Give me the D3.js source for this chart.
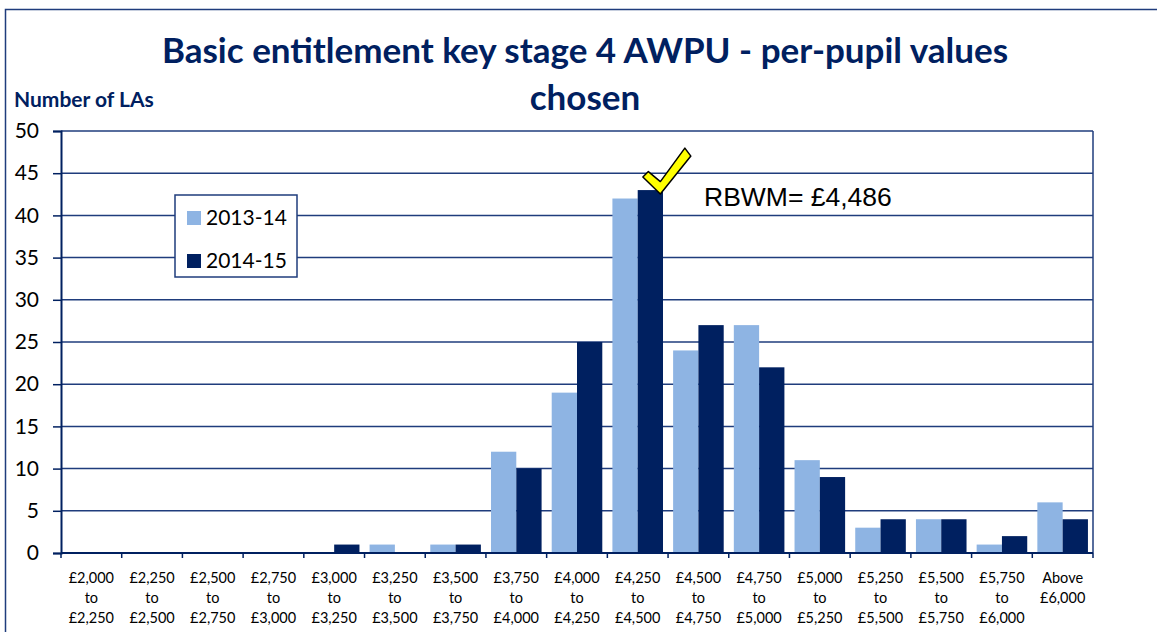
<!DOCTYPE html>
<html>
<head>
<meta charset="utf-8">
<script src="https://cdn.jsdelivr.net/npm/d3@7"></script>
<style>
  body { margin: 0; background: #fff; }
  svg { display: block; }
</style>
</head>
<body>
<div id="chart"></div>
<script>
const WIDTH = 1157;
const HEIGHT = 632;

// data
const categories = [
  ["£2,000", "to", "£2,250"], ["£2,250", "to", "£2,500"], ["£2,500", "to", "£2,750"],
  ["£2,750", "to", "£3,000"], ["£3,000", "to", "£3,250"], ["£3,250", "to", "£3,500"],
  ["£3,500", "to", "£3,750"], ["£3,750", "to", "£4,000"], ["£4,000", "to", "£4,250"],
  ["£4,250", "to", "£4,500"], ["£4,500", "to", "£4,750"], ["£4,750", "to", "£5,000"],
  ["£5,000", "to", "£5,250"], ["£5,250", "to", "£5,500"], ["£5,500", "to", "£5,750"],
  ["£5,750", "to", "£6,000"], ["Above", "£6,000"]
];
const seriesNames = ["2013-14", "2014-15"];
const values2013 = [0, 0, 0, 0, 0, 1, 1, 12, 19, 42, 24, 27, 11, 3, 4, 1, 6];
const values2014 = [0, 0, 0, 0, 1, 0, 1, 10, 25, 43, 27, 22, 9, 4, 4, 2, 4];
const yTicks = [0, 5, 10, 15, 20, 25, 30, 35, 40, 45, 50];
const colors = ["#8EB4E3", "#002060"];
const marked = { category: 9, value: 43, label: "RBWM= £4,486" };

const navy = "#002060";
const gridColor = "#1F3C7C";
const font = "Lato, 'Open Sans', sans-serif";

const margin = { left: 61, right: 64, top: 131, bottom: 79 };

const svg = d3.select("#chart")
  .append("svg")
  .attr("width", WIDTH)
  .attr("height", HEIGHT);

// outer chart border
svg.append("rect")
  .attr("x", 5.5).attr("y", 9.5)
  .attr("width", WIDTH + 10).attr("height", HEIGHT + 10)
  .attr("fill", "none")
  .attr("stroke", gridColor)
  .attr("stroke-width", 1.5);

const keys = d3.range(categories.length);

const x = d3.scaleBand()
  .domain(keys)
  .range([margin.left, WIDTH - margin.right])
  .paddingInner(0)
  .paddingOuter(0);

const xSub = d3.scaleBand()
  .domain([0, 1])
  .range([0, x.bandwidth()])
  .paddingOuter(0.2)
  .paddingInner(0);

const y = d3.scaleLinear()
  .domain([0, 50])
  .range([HEIGHT - margin.bottom, margin.top]);

// gridlines
svg.append("g")
  .selectAll("line")
  .data(yTicks)
  .enter().append("line")
  .attr("x1", margin.left)
  .attr("x2", WIDTH - margin.right)
  .attr("y1", d => y(d))
  .attr("y2", d => y(d))
  .attr("stroke", gridColor)
  .attr("stroke-width", 1.5);

// right border of plot
svg.append("line")
  .attr("x1", WIDTH - margin.right).attr("x2", WIDTH - margin.right)
  .attr("y1", y(50)).attr("y2", y(0))
  .attr("stroke", gridColor)
  .attr("stroke-width", 1.5);

// bars
const series = [values2013, values2014];
const groups = svg.append("g")
  .selectAll("g")
  .data(keys)
  .enter().append("g")
  .attr("transform", d => `translate(${x(d)},0)`);

groups.selectAll("rect")
  .data(k => series.map((s, i) => ({ i, v: s[k] })))
  .enter().append("rect")
  .attr("x", d => xSub(d.i))
  .attr("width", xSub.bandwidth())
  .attr("y", d => y(d.v))
  .attr("height", d => y(0) - y(d.v))
  .attr("fill", d => colors[d.i]);

// y axis
const yAxis = d3.axisLeft(y)
  .tickValues(yTicks)
  .tickSize(8)
  .tickPadding(14);

const yg = svg.append("g")
  .attr("transform", `translate(${margin.left},0)`)
  .call(yAxis);
yg.select(".domain").attr("stroke", navy).attr("stroke-width", 2);
yg.selectAll(".tick line").attr("stroke", navy).attr("stroke-width", 1.5);
yg.selectAll(".tick text")
  .attr("fill", "#000")
  .style("font-family", font)
  .style("font-size", "21px");

// x axis: ticks at category boundaries
const boundaries = keys.map(k => x(k)).concat([WIDTH - margin.right]);
svg.append("line")
  .attr("x1", margin.left).attr("x2", WIDTH - margin.right)
  .attr("y1", y(0)).attr("y2", y(0))
  .attr("stroke", navy).attr("stroke-width", 2);
svg.append("g")
  .selectAll("line")
  .data(boundaries)
  .enter().append("line")
  .attr("x1", d => d).attr("x2", d => d)
  .attr("y1", y(0)).attr("y2", y(0) + 5)
  .attr("stroke", navy).attr("stroke-width", 1.5);

const xl = svg.append("g")
  .selectAll("text")
  .data(keys)
  .enter().append("text")
  .attr("x", d => x(d) + x.bandwidth() / 2)
  .attr("y", y(0) + 30)
  .attr("text-anchor", "middle")
  .style("font-family", font)
  .style("font-size", "14.5px")
  .attr("fill", "#000");
xl.selectAll("tspan")
  .data(d => categories[d])
  .enter().append("tspan")
  .attr("x", function () { return d3.select(this.parentNode).attr("x"); })
  .attr("dy", (d, i) => i === 0 ? 0 : 20)
  .text(d => d);

// title
const title = svg.append("text")
  .attr("x", 585)
  .attr("y", 63)
  .attr("text-anchor", "middle")
  .attr("fill", navy)
  .style("font-family", font)
  .style("font-weight", "bold")
  .style("font-size", "35px");
title.append("tspan").attr("x", 585).text("Basic entitlement key stage 4 AWPU - per-pupil values");
title.append("tspan").attr("x", 585).attr("dy", 47).text("chosen");

// y axis title
svg.append("text")
  .attr("x", 14)
  .attr("y", 107)
  .attr("fill", navy)
  .style("font-family", font)
  .style("font-weight", "bold")
  .style("font-size", "21px")
  .text("Number of LAs");

// legend
const legend = svg.append("g").attr("transform", "translate(175,195)");
legend.append("rect")
  .attr("width", 122).attr("height", 82)
  .attr("fill", "#fff")
  .attr("stroke", gridColor)
  .attr("stroke-width", 1.5);
const li = legend.selectAll("g.item")
  .data(seriesNames)
  .enter().append("g")
  .attr("class", "item")
  .attr("transform", (d, i) => `translate(12,${16 + i * 43})`);
li.append("rect")
  .attr("width", 14).attr("height", 14)
  .attr("fill", (d, i) => colors[i]);
li.append("text")
  .attr("x", 19).attr("y", 14)
  .attr("fill", "#000")
  .style("font-family", font)
  .style("font-size", "21px")
  .text(d => d);

// tick mark annotation on the highlighted bar
const cx = x(marked.category) + xSub(1) + xSub.bandwidth() / 2;
const cy = y(marked.value);
const check = "M -7.5,-13 L -2,-18.5 L 10,-8.5 L 34.5,-42 L 40.5,-34 L 10,4 Z";
svg.append("path")
  .attr("d", check)
  .attr("transform", `translate(${cx},${cy})`)
  .attr("fill", "#FFFF00")
  .attr("stroke", "#000")
  .attr("stroke-width", 1.5)
  .attr("stroke-linejoin", "round");

svg.append("text")
  .attr("x", 704)
  .attr("y", 206)
  .attr("fill", "#000")
  .style("font-family", "'Liberation Sans', Arial, sans-serif")
  .style("font-size", "26.5px")
  .text(marked.label);
</script>
</body>
</html>
